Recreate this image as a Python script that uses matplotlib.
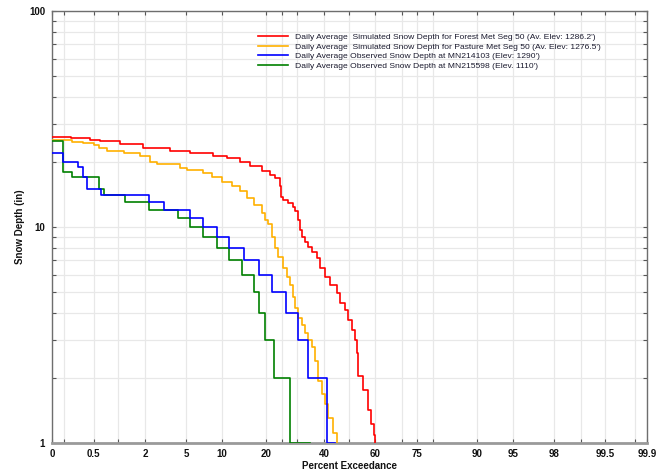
import numpy as np
import matplotlib
matplotlib.use("Agg")
import matplotlib.pyplot as plt
from matplotlib.ticker import FixedLocator, FixedFormatter, LogLocator, NullFormatter
from statistics import NormalDist

plt.rcParams['font.family'] = ['Liberation Sans', 'DejaVu Sans']

# ---------------- data ----------------
# Simulated (Forest) - percent exceedance / depth (in)
forest_pct = [0.13, 0.25, 0.45, 0.6, 1.05, 1.9, 3.55, 5.4, 8.5, 10.9, 13.5, 15.9, 19.0, 21.2,
              22.7, 24.2, 24.6, 25.3, 26.9, 28.6, 29.2, 30.3, 30.9, 31.5, 32.7, 33.9, 35.2,
              37.1, 38.3, 40.3, 42.2, 44.9, 46.2, 48.2, 49.5, 50.9, 52.2, 52.9, 53.5, 55.6,
              57.2, 58.4, 59.6, 60.1]
forest_depth = [26.0, 25.8, 25.4, 25.0, 24.2, 23.2, 22.5, 21.9, 21.3, 20.8, 20.0, 19.1, 18.2, 17.5,
                16.8, 15.4, 13.8, 13.3, 12.9, 12.4, 11.8, 10.8, 9.7, 9.0, 8.55, 8.1, 7.7,
                7.16, 6.44, 5.89, 5.39, 4.93, 4.44, 4.13, 3.71, 3.34, 3.0, 2.6, 2.05, 1.76,
                1.42, 1.22, 1.09, 1.0]

# Simulated (Pasture)
pasture_pct = [0.13, 0.26, 0.37, 0.50, 0.58, 0.73, 1.15, 1.76, 2.25, 2.63, 4.42, 5.08, 7.08, 8.3,
               9.94, 11.8, 13.55, 15.06, 16.7, 18.9, 19.8, 20.7, 21.7, 22.7, 23.7, 25.1, 26.4,
               27.3, 28.4, 29.2, 30.3, 31.5, 32.7, 33.9, 35.2, 36.4, 37.7, 39.0, 40.3, 41.6,
               43.5, 45.1]
pasture_depth = [25.3, 24.8, 24.6, 24.0, 23.1, 22.5, 21.9, 21.4, 20.1, 19.6, 18.8, 18.4, 17.7, 17.1,
                 16.1, 15.4, 14.6, 13.6, 12.65, 11.6, 10.8, 10.3, 9.0, 8.0, 7.3, 6.44, 5.89,
                 5.39, 4.76, 4.2, 3.78, 3.52, 3.22, 3.0, 2.79, 2.4, 1.93, 1.68, 1.51, 1.30,
                 1.11, 1.0]

# Observed MN214103 - depth levels and percent where each level ends
obs1_depth = [22, 20, 19, 17, 15, 14, 13, 12, 11, 10, 9, 8, 7, 6, 5, 4, 3, 2, 1]
obs1_end_pct = [0.196, 0.31, 0.37, 0.41, 0.62, 2.2, 3.1, 5.4, 7.0, 9.2, 11.3, 14.5, 18.2,
                21.7, 26.2, 30.1, 33.7, 41.2, 44.2]

# Observed MN215598
obs2_depth = [25, 18, 17, 15, 14, 13, 12, 11, 10, 9, 8, 7, 6, 5, 4, 3, 2, 1]
obs2_end_pct = [0.196, 0.26, 0.58, 0.68, 1.2, 2.2, 4.26, 5.4, 7.0, 9.2, 11.3, 13.9, 16.7,
                18.2, 19.8, 22.4, 27.3, 34.6]

labels = ["Daily Average  Simulated Snow Depth for Forest Met Seg 50 (Av. Elev: 1286.2')",
          "Daily Average  Simulated Snow Depth for Pasture Met Seg 50 (Av. Elev: 1276.5')",
          "Daily Average Observed Snow Depth at MN214103 (Elev: 1290')",
          "Daily Average Observed Snow Depth at MN215598 (Elev. 1110')"]
colors = ['#ff0000', '#ffb000', '#0000ff', '#008000']

x_tick_pos = [0.1377, 0.2, 0.5, 1, 2, 5, 10, 20, 25, 30, 40, 50, 60, 70, 75, 80, 90, 95, 98,
              99, 99.5, 99.8, 99.8623]
x_tick_lab = ['0', '', '0.5', '', '2', '5', '10', '20', '', '', '40', '', '60', '', '75', '',
              '90', '95', '98', '', '99.5', '', '99.9']

# ---------------- normal probability scale ----------------
_nd = NormalDist()

def fwd(p):
    a = np.asarray(p, dtype=float)
    flat = a.ravel() / 100.0
    out = np.empty_like(flat)
    for i, v in enumerate(flat):
        if not np.isfinite(v):
            out[i] = np.nan
        else:
            out[i] = _nd.inv_cdf(min(max(v, 1e-12), 1 - 1e-12))
    return out.reshape(a.shape)

def inv(z):
    a = np.asarray(z, dtype=float)
    flat = a.ravel()
    out = np.array([_nd.cdf(v) * 100.0 if np.isfinite(v) else np.nan for v in flat])
    return out.reshape(a.shape)

fig = plt.figure(figsize=(6.64, 4.72), dpi=100)
ax = fig.add_axes([52/664, 1 - 443/472, (647-52)/664, (443-11)/472])
ax.set_xscale('function', functions=(fwd, inv))
ax.set_yscale('log')

lw = 1.2
ax.step(forest_pct, forest_depth, where='post', color=colors[0], lw=lw, label=labels[0], zorder=4)
ax.step(pasture_pct, pasture_depth, where='post', color=colors[1], lw=lw, label=labels[1], zorder=3)
x1 = [x_tick_pos[0]] + obs1_end_pct
y1 = [obs1_depth[0]] + obs1_depth
ax.step(x1, y1, where='pre', color=colors[2], lw=lw, label=labels[2], zorder=5)
x2 = [x_tick_pos[0]] + obs2_end_pct
y2 = [obs2_depth[0]] + obs2_depth
ax.step(x2, y2, where='pre', color=colors[3], lw=lw, label=labels[3], zorder=4)

ax.set_xlim(x_tick_pos[0], x_tick_pos[-1])
ax.set_ylim(1, 100)

ax.xaxis.set_major_locator(FixedLocator(x_tick_pos))
ax.xaxis.set_major_formatter(FixedFormatter(x_tick_lab))
ax.xaxis.set_minor_locator(FixedLocator([]))
ax.yaxis.set_major_locator(FixedLocator([1, 10, 100]))
ax.yaxis.set_major_formatter(FixedFormatter(['1', '10', '100']))
ax.yaxis.set_minor_locator(LogLocator(base=10, subs=np.arange(2, 10)))
ax.yaxis.set_minor_formatter(NullFormatter())

ax.grid(True, which='both', axis='both', color='#e8e8e8', lw=0.9, zorder=0)
ax.set_axisbelow(True)

for s in ax.spines.values():
    s.set_color('#6e6e6e')
    s.set_linewidth(1.0)
ax.spines['bottom'].set_color('#9a9a9a')
ax.spines['bottom'].set_linewidth(2.0)

ax.tick_params(axis='both', which='both', direction='in', top=True, right=True,
               color='#555555', width=0.8, length=3)
ax.tick_params(axis='x', pad=4, labelsize=7)
ax.tick_params(axis='y', pad=5, labelsize=7)
for t in ax.get_xticklabels() + ax.get_yticklabels():
    t.set_fontweight('bold')
    t.set_color('#111111')

ax.set_xlabel('Percent Exceedance', fontsize=7, fontweight='bold', color='#111111')
ax.set_ylabel('Snow Depth (in)', fontsize=7, fontweight='bold', color='#111111')
ax.xaxis.set_label_coords(0.5, -0.042)
ax.yaxis.set_label_coords(-0.045, 0.5)

leg = ax.legend(loc='upper left', bbox_to_anchor=(258/664, 1 - 33/472),
                bbox_transform=fig.transFigure, frameon=False, fontsize=6.1,
                handlelength=3.5, handletextpad=0.85, borderpad=0, borderaxespad=0,
                labelspacing=0.2)
for t in leg.get_texts():
    t.set_color('#1a1a2e')

fig.savefig('out.png', dpi=100)
